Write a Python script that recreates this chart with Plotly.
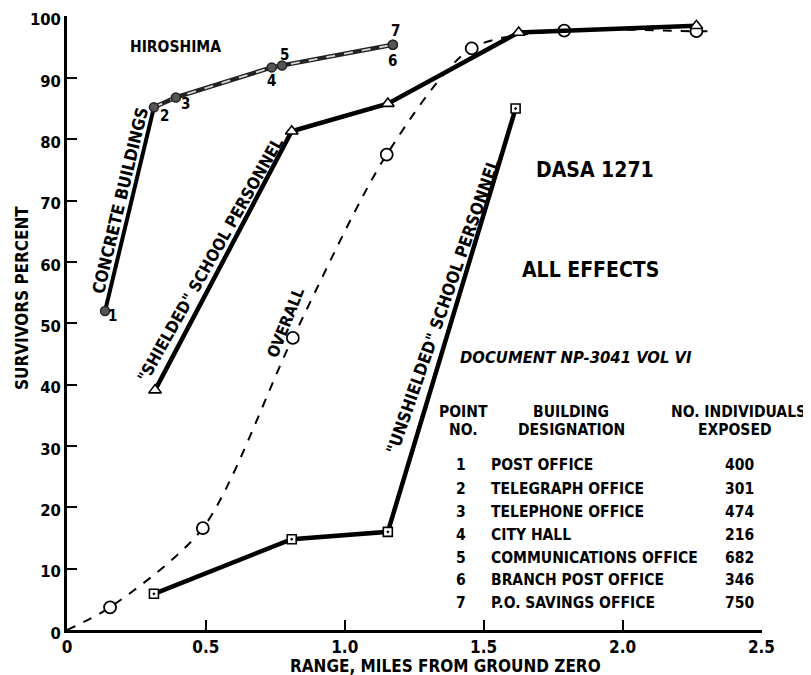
import plotly.graph_objects as go

# ---------------- data ----------------
concrete_x = [0.137, 0.313, 0.392, 0.737, 0.774, 1.173, 1.173]
concrete_y = [52.0, 85.2, 86.8, 91.7, 92.0, 95.4, 95.4]
concrete_labels = ["1", "2", "3", "4", "5", "6", "7"]

shielded_x = [0.317, 0.809, 1.155, 1.626, 2.266]
shielded_y = [39.1, 81.3, 85.8, 97.4, 98.5]

overall_x = [0.0, 0.155, 0.489, 0.813, 1.151, 1.457, 1.79, 2.266, 2.33]
overall_y = [0.0, 3.7, 16.6, 47.6, 77.5, 94.8, 97.7, 97.6, 97.6]
overall_marked = [False, True, True, True, True, True, True, True, False]

unshielded_x = [0.313, 0.809, 1.155, 1.615]
unshielded_y = [5.9, 14.8, 16.0, 85.0]

x_tickvals = [0, 0.5, 1.0, 1.5, 2.0, 2.5]
x_ticktext = ["0", "0.5", "1.0", "1.5", "2.0", "2.5"]
y_tickvals = [0, 10, 20, 30, 40, 50, 60, 70, 80, 90, 100]

table_no = ["1", "2", "3", "4", "5", "6", "7"]
table_building = ["POST OFFICE", "TELEGRAPH OFFICE", "TELEPHONE OFFICE", "CITY HALL",
                  "COMMUNICATIONS OFFICE", "BRANCH POST OFFICE", "P.O. SAVINGS OFFICE"]
table_exposed = [400, 301, 474, 216, 682, 346, 750]

# ---------------- layout helpers ----------------
# page body has an 8px default margin, so the figure is drawn at (8, 8)
OFF = 8
W, H = 811 - OFF, 675 - OFF
L, R, T, B = 67, 762, 16, 630          # plot area in window pixels
FONT = "Liberation Sans Narrow, DejaVu Sans Condensed, Liberation Sans, Arial, sans-serif"


def px(x):
    return (x - L) / (R - L)


def py(y):
    return (B - y) / (B - T)


fig = go.Figure()

# Concrete buildings: first segment solid, rest double-line
fig.add_trace(go.Scatter(x=concrete_x[:2], y=concrete_y[:2], mode="lines",
                         line=dict(color="black", width=4), hoverinfo="skip"))
fig.add_trace(go.Scatter(x=concrete_x[1:], y=concrete_y[1:], mode="lines",
                         line=dict(color="#222", width=4.5), hoverinfo="skip"))
fig.add_trace(go.Scatter(x=concrete_x[1:], y=concrete_y[1:], mode="lines",
                         line=dict(color="#d8d8d8", width=1.8, dash="dash"), hoverinfo="skip"))
fig.add_trace(go.Scatter(x=concrete_x, y=concrete_y, mode="markers",
                         marker=dict(symbol="circle", size=9, color="#555",
                                     line=dict(color="#222", width=1.5))))

# Overall dashed curve
fig.add_trace(go.Scatter(x=overall_x, y=overall_y, mode="lines",
                         line=dict(color="black", width=2, dash="dash", shape="spline", smoothing=0.8),
                         hoverinfo="skip"))
fig.add_trace(go.Scatter(x=[x for x, m in zip(overall_x, overall_marked) if m],
                         y=[y for y, m in zip(overall_y, overall_marked) if m],
                         mode="markers",
                         marker=dict(symbol="circle", size=12, color="white",
                                     line=dict(color="black", width=1.8))))

# Shielded
fig.add_trace(go.Scatter(x=shielded_x, y=shielded_y, mode="lines+markers",
                         line=dict(color="black", width=4.5),
                         marker=dict(symbol="triangle-up", size=11, color="white",
                                     line=dict(color="black", width=1.6))))

# Unshielded
fig.add_trace(go.Scatter(x=unshielded_x, y=unshielded_y, mode="lines+markers",
                         line=dict(color="black", width=4.5),
                         marker=dict(symbol="square-dot", size=9, color="white",
                                     line=dict(color="black", width=1.6))))

annotations = []

# point number labels
label_shift = [(7, -5), (11, -9), (10, -7), (0, -14), (2, 11), (0, -16), (3, 14)]
for xv, yv, lab, (dx, dy) in zip(concrete_x, concrete_y, concrete_labels, label_shift):
    annotations.append(dict(x=xv, y=yv, xref="x", yref="y", text=lab, showarrow=False,
                            xshift=dx, yshift=dy,
                            font=dict(family=FONT, size=15, color="black", weight="bold")))


def txt(x, y, text, size=14, angle=0, weight="bold", style="normal", xanchor="center"):
    annotations.append(dict(x=px(x), y=py(y), xref="paper", yref="paper", text=text,
                            showarrow=False, textangle=angle, xanchor=xanchor, yanchor="middle",
                            font=dict(family=FONT, size=size, color="black", weight=weight,
                                      style=style)))


txt(175, 47, "HIROSHIMA", 15.5)
txt(120, 201, "CONCRETE BUILDINGS", 17, -76.5)
txt(211, 260, '"SHIELDED" SCHOOL PERSONNEL', 16.5, -60.5)
txt(285, 323, "OVERALL", 16, -68)
txt(443, 306, '"UNSHIELDED" SCHOOL PERSONNEL', 17, -70.8)
txt(595, 170, "DASA 1271", 21)
txt(590, 270, "ALL EFFECTS", 21)
txt(576, 357, "DOCUMENT NP-3041 VOL VI", 16.5, style="italic")

TS = 15.5
txt(463, 412, "POINT", TS)
txt(463, 430, "NO.", TS)
txt(571, 412, "BUILDING", TS)
txt(571, 430, "DESIGNATION", TS)
txt(738, 412, "NO. INDIVIDUALS", TS)
txt(735, 430, "EXPOSED", TS)

row_y = [465, 489, 512, 535, 558, 580, 603]
for ry, n, b, e in zip(row_y, table_no, table_building, table_exposed):
    txt(461, ry, n, TS)
    txt(489, ry, b, TS, xanchor="left")
    txt(723, ry, str(e), TS, xanchor="left")

txt(22, 298, "SURVIVORS PERCENT", 17, -90)
txt(445, 666, "RANGE, MILES FROM GROUND ZERO", 17)

fig.update_layout(
    width=W, height=H,
    margin=dict(l=L - OFF, r=W - (R - OFF), t=T - OFF, b=H - (B - OFF), autoexpand=False),
    paper_bgcolor="white", plot_bgcolor="white",
    showlegend=False,
    annotations=annotations,
    xaxis=dict(range=[0, 2.502], tickvals=x_tickvals, ticktext=x_ticktext,
               showline=True, linecolor="black", linewidth=2.5,
               ticks="inside", ticklen=10, tickwidth=2, tickcolor="black",
               showgrid=False, zeroline=False, ticklabeloverflow="allow",
               tickfont=dict(family=FONT, size=17, color="black", weight="bold")),
    yaxis=dict(range=[0, 100.08], tickvals=y_tickvals,
               showline=True, linecolor="black", linewidth=2.5,
               ticks="inside", ticklen=10, tickwidth=2, tickcolor="black",
               showgrid=False, zeroline=False, ticklabeloverflow="allow",
               ticklabelshift=3,
               tickfont=dict(family=FONT, size=16.5, color="black", weight="bold")),
)

fig.write_html("out.html")
